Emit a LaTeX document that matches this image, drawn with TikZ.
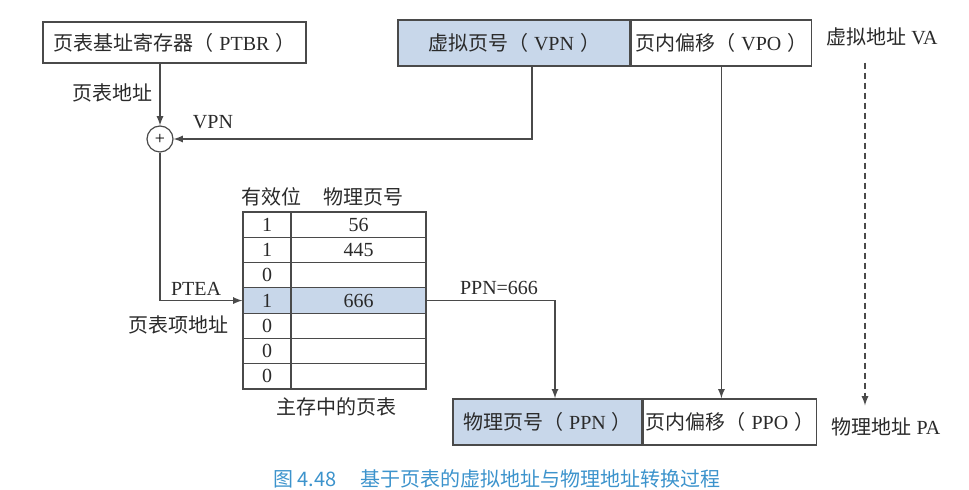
\documentclass[tikz,border=0pt]{standalone}
\usepackage{fontspec}
\setmainfont{Liberation Serif}
\newfontfamily\cjk{Noto Sans CJK SC}
\usetikzlibrary{arrows,positioning}
\newcommand{\zh}[1]{{\cjk #1}}
\newcommand{\rotpar}[2]{\zh{#1（}\hspace{0.3em}#2\hspace{0.3em}\zh{）}}
\definecolor{azul}{HTML}{C8D7EA}
\definecolor{linha}{HTML}{4A4A4A}
\definecolor{texto}{HTML}{2A2A2A}
\definecolor{legenda}{HTML}{3C93CC}
\tikzset{
  caixa/.style={draw=linha,line width=0.7pt,inner sep=0pt,text=texto},
  celula/.style={draw=linha,line width=0.6pt,inner sep=0pt,minimum height=12.65pt,text=texto},
  rotulo/.style={text=texto,inner sep=1pt},
  seta/.style={->,draw=linha,line width=0.6pt}
}
\begin{document}
\begin{tikzpicture}[x=0.5pt,y=-0.5pt,>=latex]
	\useasboundingbox (0,0) rectangle (969,490);
	% registrador e endereco virtual
	\node[caixa,minimum width=131.5pt,minimum height=20.5pt] (ptbr) at (174.5,42.5) {\rotpar{页表基址寄存器}{PTBR}};
	\node[caixa,fill=azul,minimum width=116pt,minimum height=23pt] (vpn) at (514,43) {\rotpar{虚拟页号}{VPN}};
	\node[caixa,minimum width=90pt,minimum height=23pt,right=0pt of vpn] (vpo) {\rotpar{页内偏移}{VPO}};
	\node[rotulo] (va) at (882,37) {\zh{虚拟地址} VA};
	% somador
	\node[draw=linha,line width=0.6pt,circle,minimum size=13pt,inner sep=0pt,font=\small] (soma) at (160,139) {+};
	\node[rotulo,anchor=east] (lbase) at (155,93) {\zh{页表地址}};
	\node[rotulo] (lvpn) at (213,122) {VPN};
	% tabela de paginas
	\foreach \v/\p [count=\i] in {1/56,1/445,0/,1/666,0/,0/,0/} {
		\ifnum\i=4 \def\cor{azul}\else\def\cor{white}\fi
		\node[celula,fill=\cor,minimum width=24pt] (v\i) at (267,{212+(\i-0.5)*25.3}) {\v};
		\node[celula,fill=\cor,minimum width=67.5pt] (p\i) at (358.5,{212+(\i-0.5)*25.3}) {\p};
	}
	\node[rotulo] (hval) at (271,197) {\zh{有效位}};
	\node[rotulo] (hppn) at (363,197) {\zh{物理页号}};
	\node[rotulo] (ltab) at (336,407) {\zh{主存中的页表}};
	\node[rotulo] (lptea) at (196,289) {PTEA};
	\node[rotulo,anchor=east] (lpte) at (231,325) {\zh{页表项地址}};
	% endereco fisico
	\node[caixa,fill=azul,minimum width=94.5pt,minimum height=23pt] (ppn) at (547.5,422) {\rotpar{物理页号}{PPN}};
	\node[caixa,minimum width=86.5pt,minimum height=23pt,right=0pt of ppn] (ppo) {\rotpar{页内偏移}{PPO}};
	\node[rotulo] (pa) at (886,427) {\zh{物理地址} PA};
	\node[rotulo] (lppn) at (499,288) {PPN=666};
	% legenda
	\node[text=legenda,font=\cjk] (leg) at (497,479) {图 4.48\hspace{1.2em}基于页表的虚拟地址与物理地址转换过程};
	% setas
	\draw[seta] (ptbr.south -| soma) -- (soma);
	\draw[seta] ([xshift=9pt]vpn.south) |- (soma);
	\draw[seta] (soma) |- (v4);
	\draw[seta] (p4) -| ([xshift=3.75pt]ppn.north);
	\draw[seta] (vpo) -- (vpo |- ppo.north);
	\coordinate (tr) at (865,0);
	\draw[seta,dash pattern=on 3pt off 2pt,shorten <=7pt,shorten >=5pt] (va.south -| tr) -- (pa.north -| tr);
\end{tikzpicture}
\end{document}
